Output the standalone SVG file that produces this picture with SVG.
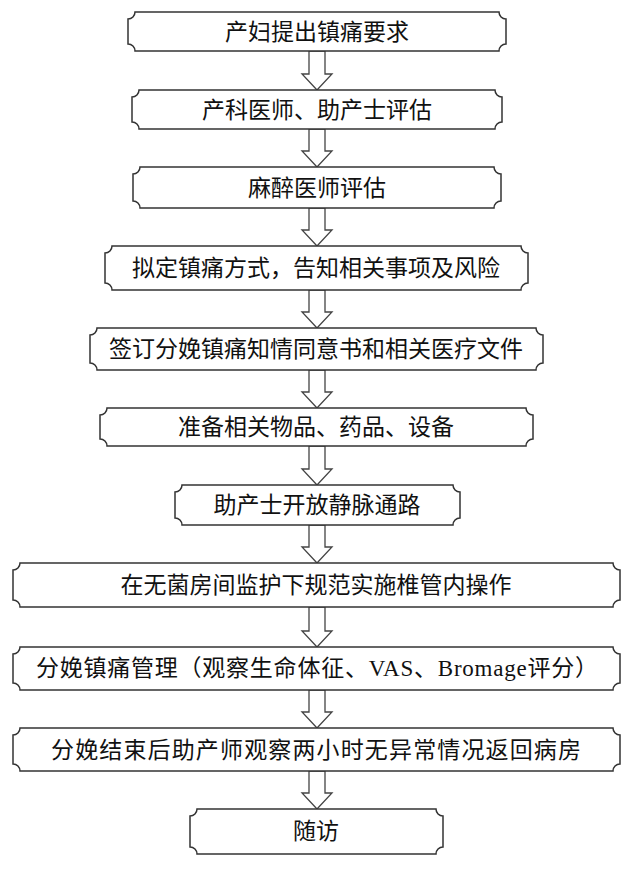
<svg xmlns="http://www.w3.org/2000/svg" width="637" height="871" viewBox="0 0 637 871">
<style>
.b{fill:#fff;stroke:#333;stroke-width:1.5}
.t{font-family:"Liberation Serif","Noto Sans CJK SC",serif;font-size:23px;fill:#111;text-anchor:middle;dominant-baseline:central}
.a{fill:#fff;stroke:#444;stroke-width:1.3}
</style>
<rect width="637" height="871" fill="#fff"/>
<g id="connectors">
<path class="a" d="M309,51 V74 H302 L317,90 L332,74 H325 V51 Z"/>
<path class="a" d="M309,129 V151 H302 L317,167 L332,151 H325 V129 Z"/>
<path class="a" d="M309,208 V230 H302 L317,246 L332,230 H325 V208 Z"/>
<path class="a" d="M309,290 V312 H302 L317,328 L332,312 H325 V290 Z"/>
<path class="a" d="M309,370 V392 H302 L317,408 L332,392 H325 V370 Z"/>
<path class="a" d="M309,446 V469 H302 L317,485 L332,469 H325 V446 Z"/>
<path class="a" d="M309,525 V547 H302 L317,563 L332,547 H325 V525 Z"/>
<path class="a" d="M309,607 V631 H302 L317,647 L332,631 H325 V607 Z"/>
<path class="a" d="M309,690 V712 H302 L317,728 L332,712 H325 V690 Z"/>
<path class="a" d="M309,771 V793 H302 L317,809 L332,793 H325 V771 Z"/>
</g>
<g id="n1"><path class="b" d="M135,12 H499 A7 7 0 0 0 506,19 V44 A7 7 0 0 0 499,51 H135 A7 7 0 0 0 128,44 V19 A7 7 0 0 0 135,12 Z"/><text class="t" x="317" y="32">产妇提出镇痛要求</text></g>
<g id="n2"><path class="b" d="M139,90 H495 A7 7 0 0 0 502,97 V122 A7 7 0 0 0 495,129 H139 A7 7 0 0 0 132,122 V97 A7 7 0 0 0 139,90 Z"/><text class="t" x="317" y="110">产科医师、助产士评估</text></g>
<g id="n3"><path class="b" d="M140,167 H494 A7 7 0 0 0 501,174 V201 A7 7 0 0 0 494,208 H140 A7 7 0 0 0 133,201 V174 A7 7 0 0 0 140,167 Z"/><text class="t" x="317" y="188">麻醉医师评估</text></g>
<g id="n4"><path class="b" d="M112,246 H521 A7 7 0 0 0 528,253 V283 A7 7 0 0 0 521,290 H112 A7 7 0 0 0 105,283 V253 A7 7 0 0 0 112,246 Z"/><text class="t" x="316" y="268">拟定镇痛方式，告知相关事项及风险</text></g>
<g id="n5"><path class="b" d="M97,328 H536 A7 7 0 0 0 543,335 V363 A7 7 0 0 0 536,370 H97 A7 7 0 0 0 90,363 V335 A7 7 0 0 0 97,328 Z"/><text class="t" x="316" y="349">签订分娩镇痛知情同意书和相关医疗文件</text></g>
<g id="n6"><path class="b" d="M107,408 H526 A7 7 0 0 0 533,415 V439 A7 7 0 0 0 526,446 H107 A7 7 0 0 0 100,439 V415 A7 7 0 0 0 107,408 Z"/><text class="t" x="316" y="427">准备相关物品、药品、设备</text></g>
<g id="n7"><path class="b" d="M182,485 H453 A7 7 0 0 0 460,492 V518 A7 7 0 0 0 453,525 H182 A7 7 0 0 0 175,518 V492 A7 7 0 0 0 182,485 Z"/><text class="t" x="317" y="505">助产士开放静脉通路</text></g>
<g id="n8"><path class="b" d="M20,563 H613 A7 7 0 0 0 620,570 V600 A7 7 0 0 0 613,607 H20 A7 7 0 0 0 13,600 V570 A7 7 0 0 0 20,563 Z"/><text class="t" x="316" y="585">在无菌房间监护下规范实施椎管内操作</text></g>
<g id="n9"><path class="b" d="M20,647 H613 A7 7 0 0 0 620,654 V683 A7 7 0 0 0 613,690 H20 A7 7 0 0 0 13,683 V654 A7 7 0 0 0 20,647 Z"/><text class="t" x="317" y="668" textLength="562" lengthAdjust="spacing">分娩镇痛管理（观察生命体征、VAS、Bromage评分）</text></g>
<g id="n10"><path class="b" d="M20,728 H613 A7 7 0 0 0 620,735 V764 A7 7 0 0 0 613,771 H20 A7 7 0 0 0 13,764 V735 A7 7 0 0 0 20,728 Z"/><text class="t" x="316" y="750" textLength="530" lengthAdjust="spacing">分娩结束后助产师观察两小时无异常情况返回病房</text></g>
<g id="n11"><path class="b" d="M197,809 H436 A7 7 0 0 0 443,816 V847 A7 7 0 0 0 436,854 H197 A7 7 0 0 0 190,847 V816 A7 7 0 0 0 197,809 Z"/><text class="t" x="316" y="831">随访</text></g>
</svg>
